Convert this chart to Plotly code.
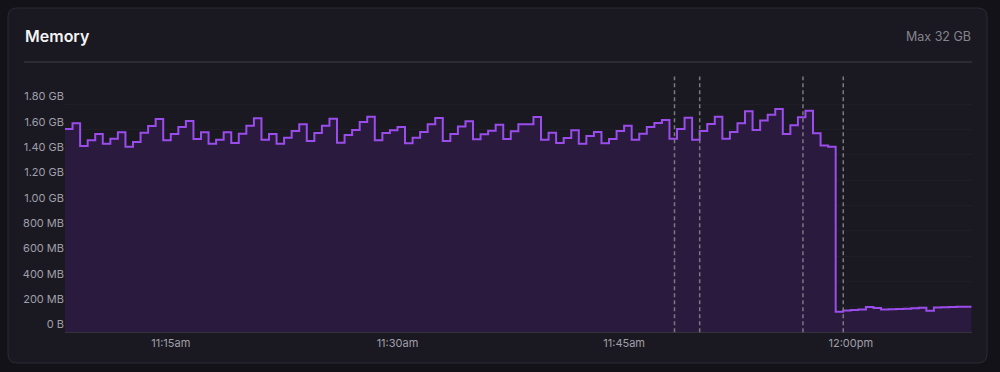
import pandas as pd
import plotly.graph_objects as go

# ---- data ----
start_time = "2024-01-01 11:08:00"
step_seconds = 30
memory_mb = [
    1605, 1650, 1471, 1516, 1566, 1489, 1529, 1579, 1466, 1503,
    1576, 1629, 1684, 1516, 1566, 1621, 1668, 1526, 1579, 1489,
    1521, 1579, 1495, 1568, 1631, 1690, 1521, 1566, 1489, 1537,
    1589, 1642, 1510, 1574, 1631, 1687, 1497, 1558, 1597, 1660,
    1702, 1516, 1574, 1595, 1621, 1492, 1537, 1581, 1642, 1692,
    1510, 1566, 1624, 1666, 1524, 1563, 1592, 1639, 1526, 1587,
    1642, 1642, 1700, 1521, 1576, 1495, 1534, 1595, 1489, 1550,
    1581, 1492, 1526, 1589, 1631, 1521, 1568, 1621, 1652, 1676,
    1529, 1605, 1695, 1521, 1589, 1645, 1702, 1529, 1581, 1650,
    1745, 1597, 1673, 1718, 1763, 1566, 1634, 1697, 1750, 1571,
    1474, 1466, 163, 173, 176, 180, 200, 192, 181, 182,
    184, 186, 190, 193, 171, 195, 197, 200, 201, 202,
    202,
]
event_times = ["2024-01-01 11:48:20", "2024-01-01 11:50:00",
               "2024-01-01 11:56:50", "2024-01-01 11:59:30"]
x_tick_vals = ["2024-01-01 11:15:00", "2024-01-01 11:30:00",
               "2024-01-01 11:45:00", "2024-01-01 12:00:00"]
x_tick_text = ["11:15am", "11:30am", "11:45am", "12:00pm"]
y_tick_vals = [0, 200, 400, 600, 800, 1000, 1200, 1400, 1600, 1800]
y_tick_text = ["0 B", "200 MB", "400 MB", "600 MB", "800 MB",
               "1.00 GB", "1.20 GB", "1.40 GB", "1.60 GB", "1.80 GB"]
x_range = ["2024-01-01 11:08:00", "2024-01-01 12:08:00"]
y_range = [0, 2000]
title_text = "Memory"
max_text = "Max 32 GB"

times = pd.date_range(start=start_time, periods=len(memory_mb),
                      freq=f"{step_seconds}s")

# ---- styling ----
W, H = 1000, 372
OUTER_BG = "#131218"
CARD_BG = "#1a1921"
CARD_BORDER = "#2b2a34"
LINE_COLOR = "#9b4cec"
FILL_COLOR = "#2a1a3d"
GRID_COLOR = "#1f1e27"
TEXT_MUTED = "#a09fa9"
FONT = "Inter, 'Noto Sans', sans-serif"


def px(x):
    return x / W


def py(y):
    return 1 - y / H


fig = go.Figure()
fig.add_trace(go.Scatter(
    x=times, y=memory_mb, mode="lines",
    line=dict(color=LINE_COLOR, width=2, shape="hv"),
    fill="tozeroy", fillcolor=FILL_COLOR,
    hoverinfo="skip", showlegend=False,
))

shapes = []
# card with rounded corners
l, t, r, b, rad = 8, 8, 987, 363, 9
path = (f"M {px(l+rad)},{py(t)} L {px(r-rad)},{py(t)} "
        f"Q {px(r)},{py(t)} {px(r)},{py(t+rad)} "
        f"L {px(r)},{py(b-rad)} Q {px(r)},{py(b)} {px(r-rad)},{py(b)} "
        f"L {px(l+rad)},{py(b)} Q {px(l)},{py(b)} {px(l)},{py(b-rad)} "
        f"L {px(l)},{py(t+rad)} Q {px(l)},{py(t)} {px(l+rad)},{py(t)} Z")
shapes.append(dict(type="path", path=path, xref="paper", yref="paper",
                   fillcolor=CARD_BG, line=dict(color=CARD_BORDER, width=1),
                   layer="below"))
# separator
shapes.append(dict(type="line", xref="paper", yref="paper",
                   x0=px(24), x1=px(972), y0=py(62), y1=py(62),
                   line=dict(color="#34333d", width=1.5), layer="below"))
# event markers
for et in event_times:
    shapes.append(dict(type="line", xref="x", yref="y domain",
                       x0=et, x1=et, y0=0, y1=1.01,
                       line=dict(color="#7a7983", width=1.5, dash="4px,3px"),
                       layer="above"))

fig.update_layout(
    width=W, height=H,
    margin=dict(l=0, r=0, t=0, b=0),
    paper_bgcolor=OUTER_BG,
    plot_bgcolor="rgba(0,0,0,0)",
    font=dict(family=FONT, color=TEXT_MUTED, size=11),
    shapes=shapes,
    xaxis=dict(
        type="date", range=x_range,
        domain=[px(65), px(971.7)],
        tickvals=x_tick_vals, ticktext=x_tick_text,
        showgrid=False, zeroline=False,
        showline=True, linecolor="#34333d", linewidth=1,
        ticks="", tickfont=dict(size=11, color=TEXT_MUTED),
        fixedrange=True,
    ),
    yaxis=dict(
        range=y_range,
        domain=[py(332.3), py(79)],
        tickvals=y_tick_vals, ticktext=y_tick_text,
        showgrid=True, gridcolor=GRID_COLOR, gridwidth=1,
        zeroline=False, showline=False,
        ticks="", ticklabelposition="outside top",
        tickfont=dict(size=11, color=TEXT_MUTED),
        fixedrange=True,
    ),
    annotations=[
        dict(text=title_text, xref="paper", yref="paper",
             x=px(23), y=py(36), xanchor="left", yanchor="middle",
             showarrow=False,
             font=dict(size=16, color="#f4f4f6", family=FONT, weight=600)),
        dict(text=max_text, xref="paper", yref="paper",
             x=px(973), y=py(36), xanchor="right", yanchor="middle",
             showarrow=False,
             font=dict(size=12.5, color="#85848e", family=FONT)),
    ],
)

fig.write_html(
    "out.html",
    config={"displayModeBar": False},
    post_script="document.body.style.margin='0';document.body.style.overflow='hidden';",
)
